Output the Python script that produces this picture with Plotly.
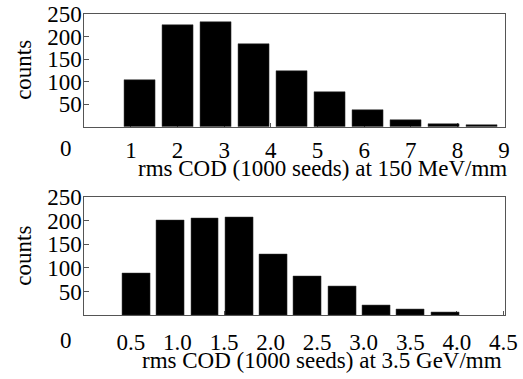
import plotly.graph_objects as go

# ---- data ----
bins = list(range(1, 11))
counts_150mev = [104, 226, 232, 183, 124, 77, 37, 15, 7, 3]
counts_35gev = [88, 201, 205, 207, 129, 83, 62, 20, 12, 5]

top_tickvals = [1, 2, 3, 4, 5, 6, 7, 8, 9]
top_ticktext = ["1", "2", "3", "4", "5", "6", "7", "8", "9"]
bot_tickvals = [0.5, 1.0, 1.5, 2.0, 2.5, 3.0, 3.5, 4.0, 4.5]
bot_ticktext = ["0.5", "1.0", "1.5", "2.0", "2.5", "3.0", "3.5", "4.0", "4.5"]
y_tickvals = [50, 100, 150, 200, 250]

title_top = "rms COD (1000 seeds) at 150 MeV/mm"
title_bot = "rms COD (1000 seeds) at 3.5 GeV/mm"
ytitle = "counts"

FONT = "Liberation Serif"
FS = 23
LINE = "#555555"

W, H = 523, 379
xdom = [84.3 / W, 505 / W]
ydom_top = [1 - 126.7 / H, 1 - 14 / H]
ydom_bot = [1 - 315 / H, 1 - 197.3 / H]

fig = go.Figure()
fig.add_trace(go.Bar(x=bins, y=counts_150mev, xaxis="x", yaxis="y", width=0.81,
                     marker=dict(color="black", line=dict(color="#333333", width=0.5)),
                     showlegend=False, hoverinfo="skip"))
fig.add_trace(go.Bar(x=bins, y=counts_35gev, xaxis="x2", yaxis="y2", width=0.81,
                     marker=dict(color="black", line=dict(color="#333333", width=0.5)),
                     showlegend=False, hoverinfo="skip"))
fig.add_trace(go.Scatter(x=[None], y=[None], xaxis="x3", yaxis="y", showlegend=False, hoverinfo="skip"))
fig.add_trace(go.Scatter(x=[None], y=[None], xaxis="x4", yaxis="y2", showlegend=False, hoverinfo="skip"))

tickfont = dict(family=FONT, size=FS, color="black")

hidden_x = dict(showticklabels=False, ticks="", showgrid=False, zeroline=False,
                showline=False, fixedrange=True, automargin=False)

common_lbl = dict(side="bottom", tickfont=tickfont, ticks="inside", ticklen=4,
                  tickcolor=LINE, layer="below traces", showline=True,
                  linecolor=LINE, linewidth=1, mirror=True, showgrid=False,
                  zeroline=False, automargin=False)
common_y = dict(range=[0, 250], tickvals=y_tickvals, tickfont=tickfont,
                ticks="inside", ticklen=5, tickcolor=LINE, showline=True,
                linecolor=LINE, linewidth=1, mirror=True, showgrid=False,
                zeroline=False, ticklabelstandoff=-3, automargin=False)

fig.update_layout(
    template="none",
    width=W, height=H,
    margin=dict(l=0, r=0, t=0, b=0),
    paper_bgcolor="white", plot_bgcolor="white",
    bargap=0,
    xaxis=dict(domain=xdom, range=[-0.46, 10.6], anchor="y", **hidden_x),
    xaxis2=dict(domain=xdom, range=[-0.51, 11.75], anchor="y2", **hidden_x),
    xaxis3=dict(overlaying="x", anchor="y", range=[0, 9.02], ticklabelstandoff=3,
                tickvals=top_tickvals, ticktext=top_ticktext, **common_lbl),
    xaxis4=dict(overlaying="x2", anchor="y2", range=[0, 4.517], ticklabelstandoff=6,
                tickvals=bot_tickvals, ticktext=bot_ticktext, **common_lbl),
    yaxis=dict(domain=ydom_top, anchor="x3", **common_y),
    yaxis2=dict(domain=ydom_bot, anchor="x4", **common_y),
)

# axis titles
TX = 322 / W
fig.add_annotation(x=TX, y=1 - 169 / H, xref="paper", yref="paper",
                   text=title_top, showarrow=False, font=tickfont, xanchor="center", yanchor="middle")
fig.add_annotation(x=TX, y=1 - 360 / H, xref="paper", yref="paper",
                   text=title_bot, showarrow=False, font=tickfont, xanchor="center", yanchor="middle")
for yd in (ydom_top, ydom_bot):
    fig.add_annotation(x=23.5 / W, y=0.5 * (yd[0] + yd[1]), xref="paper", yref="paper",
                       text=ytitle, textangle=-90, showarrow=False, font=tickfont,
                       xanchor="center", yanchor="middle")

# the stray "0" label left of each x axis
for xr, yr, ys in (("x3", "y", -22), ("x4", "y2", -25.5)):
    fig.add_annotation(x=0, y=0, xref=xr, yref=yr, text="0", showarrow=False,
                       font=tickfont, xanchor="center", yanchor="middle",
                       xshift=-18, yshift=ys)

fig.write_html("out.html", config={"displayModeBar": False},
               post_script="document.body.style.margin='0';")
